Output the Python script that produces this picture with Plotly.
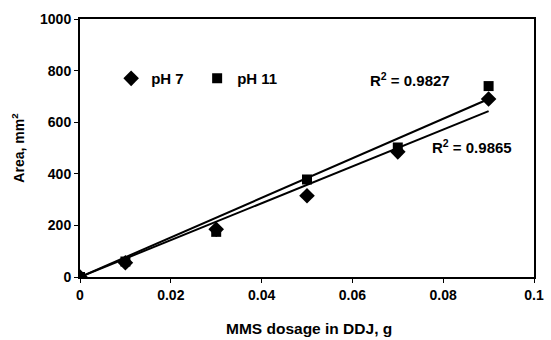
import numpy as np
import plotly.graph_objects as go

dosage = [0, 0.01, 0.03, 0.05, 0.07, 0.09]
area_ph7 = [0, 55, 185, 315, 485, 690]
area_ph11 = [0, 60, 175, 378, 502, 740]
r2_ph11 = "R<sup>2</sup> = 0.9827"
r2_ph7 = "R<sup>2</sup> = 0.9865"
xticks = [0, 0.02, 0.04, 0.06, 0.08, 0.1]
xticklabels = ["0", "0.02", "0.04", "0.06", "0.08", "0.1"]
yticks = [0, 200, 400, 600, 800, 1000]
xtitle = "MMS dosage in DDJ, g"
ytitle = "Area, mm<sup>2</sup>"

x = np.array(dosage)
def fit0(y):
    y = np.array(y)
    k = (x * y).sum() / (x * x).sum()
    return k * x

FONT = "Liberation Sans, Arial, sans-serif"
fig = go.Figure()
fig.add_trace(go.Scatter(x=dosage, y=fit0(area_ph11), mode="lines",
                         line=dict(color="black", width=2), showlegend=False))
fig.add_trace(go.Scatter(x=dosage, y=fit0(area_ph7), mode="lines",
                         line=dict(color="black", width=2), showlegend=False))
fig.add_trace(go.Scatter(x=dosage, y=area_ph11, mode="markers", name="<b>pH 11</b>",
                         marker=dict(symbol="square", size=10, color="black")))
fig.add_trace(go.Scatter(x=dosage, y=area_ph7, mode="markers", name="<b>pH 7</b>",
                         marker=dict(symbol="diamond", size=12, color="black")))

fig.add_annotation(x=0.0635, y=767, text="<b>" + r2_ph11 + "</b>", showarrow=False,
                   xanchor="left", yanchor="middle", font=dict(size=15, color="black", family=FONT))
fig.add_annotation(x=0.0772, y=507, text="<b>" + r2_ph7 + "</b>", showarrow=False,
                   xanchor="left", yanchor="middle", font=dict(size=15, color="black", family=FONT))
fig.add_annotation(x=0.505, y=-0.199, xref="paper", yref="paper", text="<b>" + xtitle + "</b>",
                   showarrow=False, xanchor="center", yanchor="middle",
                   font=dict(size=15.5, color="black", family=FONT))

fig.update_layout(
    width=551, height=340,
    margin=dict(l=80, r=17, t=11, b=63),
    paper_bgcolor="white", plot_bgcolor="white",
    font=dict(family=FONT, size=14, color="black"),
    legend=dict(orientation="h", x=0.0686, y=0.769, xanchor="left", yanchor="middle",
                traceorder="reversed", font=dict(size=15), bgcolor="rgba(0,0,0,0)",
                itemwidth=30, entrywidth=41, entrywidthmode="pixels"),
    xaxis=dict(range=[0, 0.1], tickvals=xticks,
               ticktext=["<b>%s</b>" % t for t in xticklabels],
               showgrid=False, zeroline=False, showline=True, linecolor="black", linewidth=2,
               mirror=True, ticks="outside", ticklen=4, tickcolor="black",
               tickfont=dict(size=14), automargin=False),
    yaxis=dict(range=[0, 1000], tickvals=yticks,
               ticktext=["<b>%d</b>" % t for t in yticks],
               showgrid=False, zeroline=False, showline=True, linecolor="black", linewidth=2,
               mirror=True, ticks="outside", ticklen=4, tickcolor="black",
               tickfont=dict(size=14),
               title=dict(text="<b>" + ytitle + "</b>", font=dict(size=14), standoff=12)),
)
fig.write_html("out.html")
